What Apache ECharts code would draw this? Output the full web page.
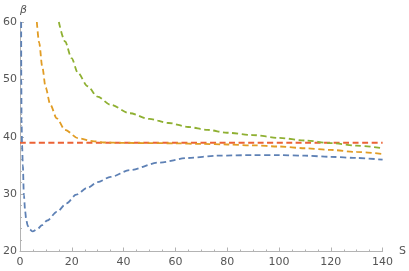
<!DOCTYPE html>
<html>
<head>
<meta charset="utf-8">
<script src="https://cdn.jsdelivr.net/npm/echarts@6/dist/echarts.min.js"></script>
<style>html,body{margin:0;padding:0;background:#fff}#c{width:409px;height:271px}</style>
</head>
<body>
<div id="c"></div>
<script>
const xTicks = [0, 20, 40, 60, 80, 100, 120, 140];
const yTicks = [20, 30, 40, 50, 60];

const blueS = [0.45,0.5,0.6,0.8,1.1,1.5,2,2.4,3,3.6,4.9,6.7,8.5,10.5,14.2,18,21.7,26,30,35,42.4,53.6,64.9,76.1,90,100,110,120,130,140];
const blueV = [60,50,43,38.5,35,29.8,27,25.5,24.5,23.9,23.5,23.9,24.6,25.4,26.9,28.4,29.9,31.1,32.1,33.0,34.2,35.5,36.3,36.7,36.8,36.8,36.7,36.5,36.3,36.0];

const orangeS = [6.5,7.4,8.6,9.9,11.7,14.2,17.4,22.4,28.6,32.4,40,50,60,70,80,90,100,110,120,130,140];
const orangeV = [60,56.4,52.2,48.6,45.6,43.2,41.2,39.75,39.2,39.0,38.92,38.9,38.85,38.75,38.65,38.5,38.3,38.0,37.7,37.35,37.0];

const greenS = [15.0,17.4,19.9,22.4,26.1,29.9,34.9,42.4,49.9,57.4,64.9,72.4,79.9,89.9,100,110,120,130,140];
const greenV = [60,56.6,53.7,51.1,48.8,47.0,45.6,44.1,43.1,42.4,41.7,41.2,40.7,40.3,39.8,39.35,38.9,38.45,38.0];

const redS = [0,140];
const redV = [38.95,38.95];

function pts(s, v){ return s.map((x,i)=>[x, v[i]]); }

const chart = echarts.init(document.getElementById('c'));
const labelColor = '#555';
const axisColor = '#b3b3b3';
function ser(name, s, v, color){
  return {name, type:'line', data: pts(s,v), showSymbol:false, smooth:0.3, smoothMonotone:'x',
    lineStyle:{color, width:1.8, type:[6,3.5]}, clip:true, silent:true};
}
chart.setOption({
  animation:false,
  grid:{left:17, right:19, top:22, bottom:19.5, containLabel:false},
  xAxis:{type:'value', min:0, max:140, interval:20,
    name:'S', nameLocation:'end', nameGap:6,
    nameTextStyle:{color:labelColor, fontSize:11, fontFamily:'DejaVu Sans', verticalAlign:'middle', padding:[0,0,4,0]},
    axisLine:{lineStyle:{color:axisColor}},
    axisTick:{inside:true, length:4, lineStyle:{color:axisColor}},
    minorTick:{show:true, splitNumber:4, length:2, lineStyle:{color:axisColor}},
    axisLabel:{color:labelColor, fontSize:11, fontFamily:'DejaVu Sans', margin:5},
    splitLine:{show:false}},
  yAxis:{type:'value', min:20, max:60, interval:10,
    name:'β', nameLocation:'end', nameGap:6,
    nameTextStyle:{color:labelColor, fontSize:11, fontStyle:'italic', fontFamily:'DejaVu Sans', align:'left', padding:[0,0,0,0]},
    axisLine:{show:true, lineStyle:{color:axisColor}},
    axisTick:{show:true, inside:true, length:4, lineStyle:{color:axisColor}},
    minorTick:{show:true, splitNumber:5, length:2, lineStyle:{color:axisColor}},
    axisLabel:{color:labelColor, fontSize:11, fontFamily:'DejaVu Sans', margin:3},
    splitLine:{show:false}},
  series:[
    ser('red', redS, redV, '#EB6235'),
    ser('blue', blueS, blueV, '#5E81B5'),
    ser('orange', orangeS, orangeV, '#E19C24'),
    ser('green', greenS, greenV, '#8FB032')
  ]
});
</script>
</body>
</html>
